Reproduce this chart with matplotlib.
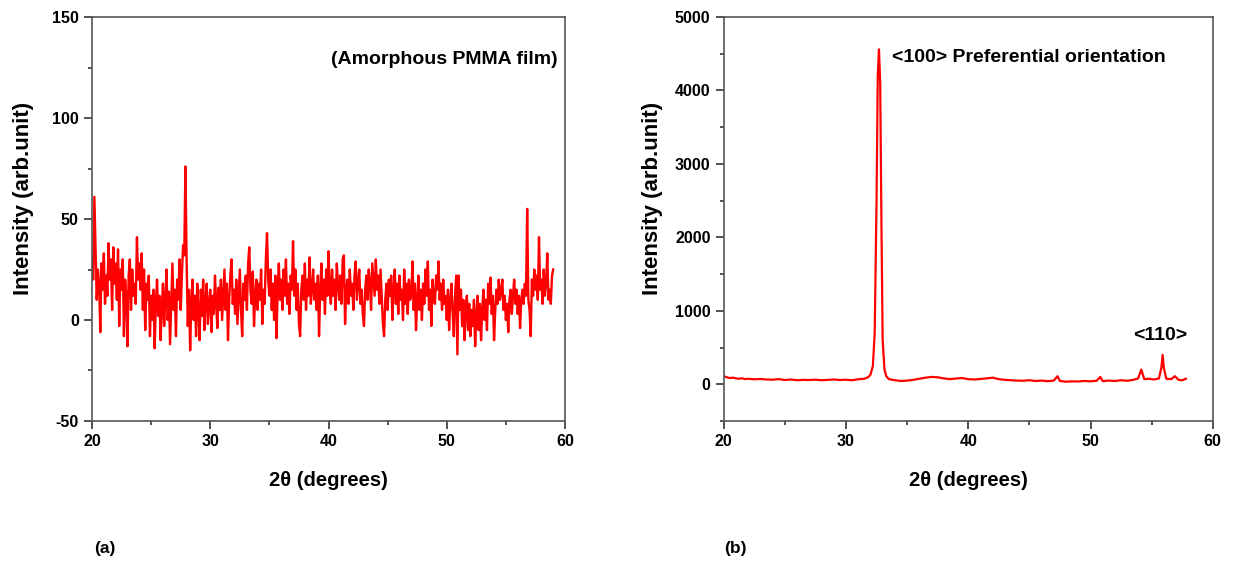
"""
XRD patterns: (a) amorphous PMMA film, (b) film with <100> preferential orientation
"""
import numpy as np
import matplotlib
matplotlib.use("Agg")
import matplotlib.pyplot as plt
from matplotlib.ticker import MultipleLocator

plt.rcParams['font.family'] = ['Liberation Sans', 'DejaVu Sans']
plt.rcParams['font.weight'] = 'bold'
plt.rcParams['axes.unicode_minus'] = False

# (a) amorphous film, 2theta from 20.0 to 59.0 in 0.1 steps
theta_a_start = 20.0
theta_a_step = 0.1
intensity_a = [
    30, 20, 61, 35, 10, 25, 18, -6, 28, 15,
    33, 8, 22, 12, 38, 20, 30, 5, 36, 18,
    28, 10, 35, -3, 25, 15, 30, -8, 20, 12,
    -13, 22, 30, 5, 25, 12, 18, 8, 41, 20,
    28, 15, 33, 5, 25, -5, 18, 10, 22, -8,
    12, 0, 15, -14, 8, 20, 2, 12, -10, 5,
    18, -3, 10, 25, 0, 14, -12, 8, 28, 5,
    15, -8, 20, 10, 30, 5, 22, 37, 32, 76,
    30, -3, 15, -15, 10, 20, 0, 12, -8, 18,
    5, -10, 15, 2, 20, -5, 10, 18, -2, 8,
    15, -6, 12, 3, 22, 8, -4, 16, 5, 20,
    0, 12, 25, 5, 18, -10, 10, 22, 30, 8,
    15, 3, 20, -2, 12, 25, 5, -8, 18, 10,
    22, 5, 28, 36, 15, 8, 24, -3, 12, 20,
    5, 18, 10, 25, -2, 15, 8, 30, 43, 20,
    12, 25, 5, 18, 0, 22, -9, 15, 28, 10,
    20, 5, 25, 12, 30, 8, 18, 3, 22, 15,
    39, 12, 25, 5, 18, -2, -8, 15, 22, 10,
    28, 5, 20, 12, 31, 8, 15, 25, 10, 18,
    5, 22, -8, 15, 28, 10, 20, 3, 25, 12,
    34, 15, 8, 25, 12, 20, 5, 28, 18, 10,
    22, 8, 30, 32, -2, 15, 20, 8, 25, 12,
    18, 5, 22, 29, 10, 18, 25, 8, 15, 3,
    -3, 15, 22, 10, 25, 18, 5, 28, 20, 12,
    30, 15, 22, 8, 25, 12, -2, -8, 10, 18,
    5, 20, 12, 22, 0, 15, 25, 8, 18, 3,
    22, 10, 15, 0, 25, 8, 18, 3, 20, 10,
    12, 29, 5, 18, -5, 10, 22, 5, 15, 0,
    18, 8, 25, 12, 29, 5, 15, -3, 20, 10,
    8, 22, 15, 29, 10, 18, 5, 20, 8, 12,
    0, 15, -5, 10, 18, 3, -8, 12, 22, -17,
    22, 5, 15, -3, 10, -10, 5, 12, -5, 8,
    -8, 5, -3, 10, -13, 2, 12, -5, 8, -10,
    5, 15, 0, 10, -5, 18, 8, 21, 3, 12,
    -10, 5, 15, 8, 20, 10, 14, 20, 5, 12,
    0, 8, -6, 10, 15, 3, 12, 20, 8, 15,
    3, 12, -4, 10, 15, 8, 18, 12, 55, 10,
    5, -8, 20, 12, 25, 15, 22, 10, 41, 15,
    20, 8, 25, 12, 18, 33, 10, 15, 8, 22,
    25,
]
theta_a = theta_a_start + theta_a_step * np.arange(len(intensity_a))

# (b) oriented film
theta_b = [20.0, 20.25, 20.5, 20.75, 21.0, 21.25, 21.5, 21.75, 22.0, 22.5,
           23.0, 23.5, 24.0, 24.5, 25.0, 25.5, 26.0, 26.5, 27.0, 27.5,
           28.0, 28.5, 29.0, 29.5, 30.0, 30.5, 31.0, 31.5, 31.8, 32.0,
           32.2, 32.35, 32.5, 32.6, 32.7, 32.8, 32.9, 33.0, 33.15, 33.3,
           33.5, 34.0, 34.5, 35.0, 35.5, 36.0, 36.5, 37.0, 37.5, 38.0,
           38.5, 39.0, 39.5, 40.0, 40.5, 41.0, 41.5, 42.0, 42.5, 43.0,
           43.5, 44.0, 44.5, 45.0, 45.5, 46.0, 46.5, 47.0, 47.3, 47.5,
           48.0, 48.5, 49.0, 49.5, 50.0, 50.5, 50.8, 51.0, 51.5, 52.0,
           52.5, 53.0, 53.5, 53.9, 54.15, 54.4, 54.8, 55.2, 55.6, 55.8,
           55.9, 56.0, 56.2, 56.6, 56.9, 57.2, 57.5, 57.8]
intensity_b = [110, 95, 85, 90, 80, 75, 82, 70, 75, 68,
               72, 65, 62, 70, 58, 65, 55, 60, 58, 62,
               55, 60, 65, 58, 62, 55, 68, 75, 95, 130,
               250, 700, 2500, 4200, 4560, 4100, 2200, 600, 200, 110,
               70, 55, 45, 50, 60, 75, 90, 100, 95, 80,
               70, 78, 85, 70, 65, 72, 80, 90, 70, 60,
               55, 50, 48, 55, 45, 50, 42, 50, 110, 45,
               35, 40, 38, 45, 40, 48, 100, 42, 50, 45,
               55, 48, 60, 80, 200, 70, 75, 65, 80, 230,
               400, 220, 75, 70, 110, 60, 55, 75]

fig = plt.figure(figsize=(12.35, 5.67), dpi=100)
ax1 = fig.add_axes([0.0745, 0.2575, 0.383, 0.7125])
ax2 = fig.add_axes([0.586, 0.2575, 0.396, 0.7125])

ax1.plot(theta_a, intensity_a, color='red', linewidth=1.7)
ax1.set_xlim(20, 60)
ax1.set_ylim(-50, 150)
ax1.yaxis.set_major_locator(MultipleLocator(50))
ax1.yaxis.set_minor_locator(MultipleLocator(25))
ax1.text(40.2, 129, '(Amorphous PMMA film)', fontsize=14, fontweight='bold', va='center')

ax2.plot(theta_b, intensity_b, color='red', linewidth=1.6)
ax2.set_xlim(20, 60)
ax2.set_ylim(-500, 5000)
ax2.yaxis.set_major_locator(MultipleLocator(1000))
ax2.yaxis.set_minor_locator(MultipleLocator(500))
ax2.text(33.8, 4455, '<100> Preferential orientation', fontsize=14, fontweight='bold', va='center')
ax2.text(55.7, 667, '<110>', fontsize=14, fontweight='bold', va='center', ha='center')

for ax in (ax1, ax2):
    ax.xaxis.set_major_locator(MultipleLocator(10))
    ax.xaxis.set_minor_locator(MultipleLocator(5))
    ax.tick_params(which='both', direction='out', top=False, right=False, width=1.2, color='#333333')
    ax.tick_params(which='major', length=6, labelsize=11.5)
    ax.tick_params(which='minor', length=3)
    for s in ax.spines.values():
        s.set_linewidth(1.2)
        s.set_color('#555555')
    for lab in ax.get_xticklabels() + ax.get_yticklabels():
        lab.set_fontweight('bold')
    ax.set_xlabel('2\u03b8 (degrees)', fontsize=14.5, fontweight='bold', labelpad=16)
    ax.set_ylabel('Intensity (arb.unit)', fontsize=16, fontweight='bold')

ax1.yaxis.set_label_coords(-0.122, 0.55)
ax2.yaxis.set_label_coords(-0.124, 0.55)

fig.text(0.076, 0.033, '(a)', fontsize=12.5, fontweight='bold', va='center')
fig.text(0.586, 0.033, '(b)', fontsize=12.5, fontweight='bold', va='center')

plt.savefig("out.png", dpi=100)
